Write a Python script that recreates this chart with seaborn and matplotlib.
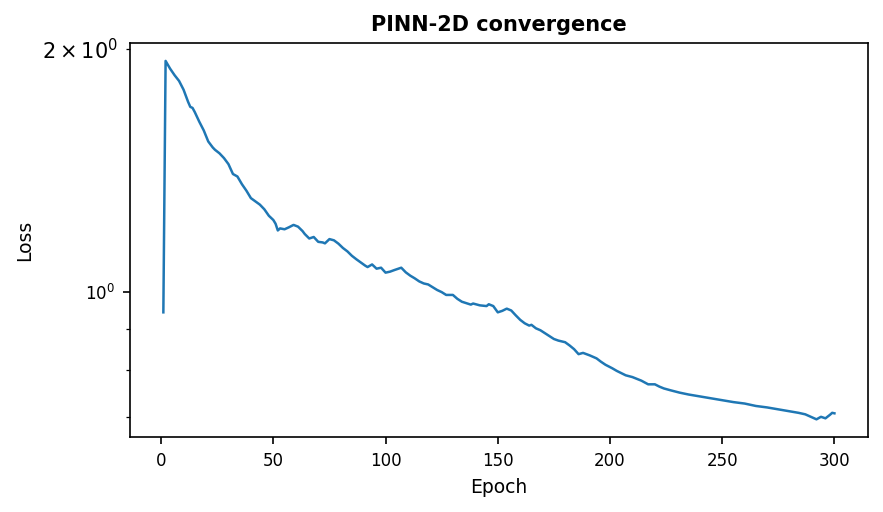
import pandas as pd
import matplotlib
matplotlib.use("Agg")
import matplotlib.pyplot as plt
import seaborn as sns

# epochs and loss
epochs = [1, 2, 4, 6, 8, 10, 12, 13, 14, 15, 17, 19, 21, 23, 24, 26, 28, 30, 32, 34,
          36, 38, 40, 42, 44, 46, 48, 50, 51, 52, 53, 55, 57, 59, 61, 63, 64, 66, 68, 70,
          72, 73, 75, 77, 79, 81, 83, 85, 87, 89, 91, 92, 94, 96, 98, 100, 102, 104, 107, 109,
          111, 113, 115, 117, 119, 121, 123, 125, 127, 130, 132, 134, 136, 138, 139, 142, 145, 146, 148, 150,
          152, 154, 156, 158, 160, 162, 164, 165, 167, 169, 172, 175, 177, 180, 182, 184, 186, 188, 191, 194,
          196, 198, 201, 203, 205, 207, 210, 212, 214, 217, 220, 222, 224, 227, 231, 235, 240, 245, 250, 255,
          260, 265, 270, 275, 280, 284, 287, 289, 291, 292, 294, 296, 298, 299, 300]
loss = [0.944, 1.932, 1.89, 1.855, 1.825, 1.78, 1.72, 1.695, 1.69, 1.67, 1.625, 1.585, 1.536, 1.51, 1.50, 1.485, 1.465, 1.44, 1.40, 1.39,
        1.36, 1.335, 1.307, 1.295, 1.283, 1.266, 1.243, 1.228, 1.215, 1.192, 1.199, 1.196, 1.203, 1.211, 1.205, 1.19, 1.18, 1.165, 1.17, 1.154,
        1.152, 1.149, 1.163, 1.159, 1.148, 1.134, 1.123, 1.109, 1.098, 1.088, 1.078, 1.074, 1.082, 1.069, 1.072, 1.057, 1.06, 1.065, 1.072, 1.058,
        1.048, 1.04, 1.031, 1.025, 1.022, 1.014, 1.006, 1.0, 0.992, 0.992, 0.981, 0.973, 0.969, 0.965, 0.968, 0.963, 0.961, 0.966, 0.961, 0.944,
        0.948, 0.954, 0.949, 0.936, 0.924, 0.915, 0.909, 0.911, 0.902, 0.897, 0.886, 0.875, 0.871, 0.867, 0.859, 0.85, 0.838, 0.841, 0.835, 0.828,
        0.82, 0.813, 0.805, 0.799, 0.794, 0.789, 0.785, 0.781, 0.777, 0.769, 0.769, 0.764, 0.760, 0.756, 0.751, 0.747, 0.743, 0.739, 0.735, 0.731,
        0.728, 0.723, 0.720, 0.716, 0.712, 0.709, 0.706, 0.702, 0.698, 0.696, 0.701, 0.698, 0.705, 0.709, 0.708]

df = pd.DataFrame({"Epoch": epochs, "Loss": loss})

fig, ax = plt.subplots(figsize=(883 / 150, 512 / 150), dpi=150)
sns.lineplot(data=df, x="Epoch", y="Loss", ax=ax, color="#1f77b4", linewidth=1.2)
ax.set_yscale("log")
ax.set_title("PINN-2D convergence", fontsize=10, fontweight="bold")
ax.set_xlabel("Epoch", fontsize=9)
ax.set_ylabel("Loss", fontsize=9)
ax.tick_params(labelsize=8)

fig.subplots_adjust(left=0.147, right=0.983, top=0.916, bottom=0.146)
fig.savefig("out.png", dpi=150)
